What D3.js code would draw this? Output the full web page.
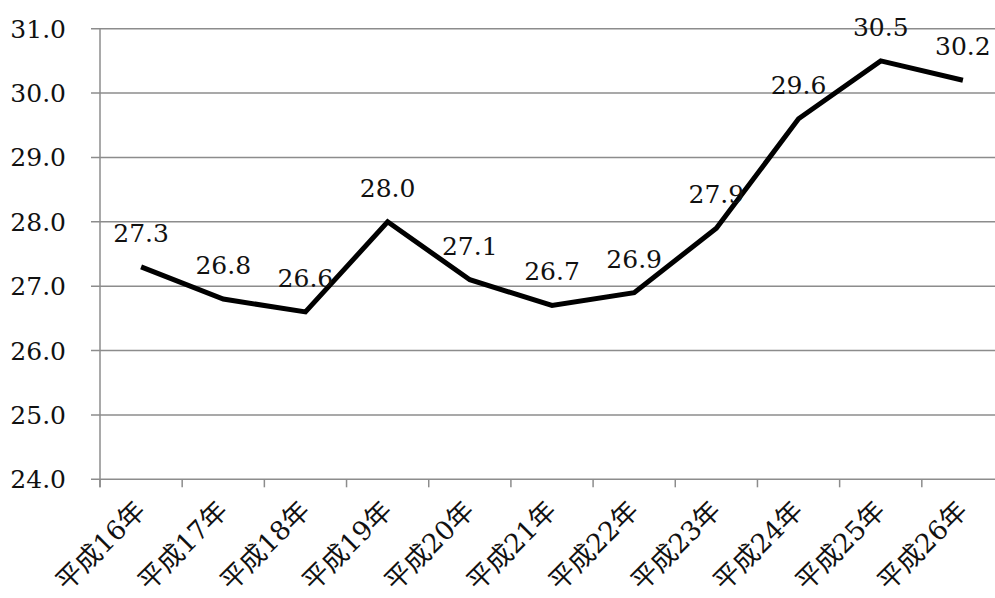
<!DOCTYPE html>
<html>
<head>
<meta charset="utf-8">
<script src="https://cdn.jsdelivr.net/npm/d3@7"></script>
<style>
  html, body { margin: 0; padding: 0; background: #fff; }
  svg { display: block; }
  text { font-family: "DejaVu Serif", "Noto Sans CJK JP", serif; fill: #111; }
</style>
</head>
<body>
<svg id="chart" width="995" height="598"></svg>
<script>
// Yearly values (Heisei 16 – 26)
const categories = ["平成16年", "平成17年", "平成18年", "平成19年", "平成20年", "平成21年",
                    "平成22年", "平成23年", "平成24年", "平成25年", "平成26年"];
const values = [27.3, 26.8, 26.6, 28.0, 27.1, 26.7, 26.9, 27.9, 29.6, 30.5, 30.2];
const yTicks = [24, 25, 26, 27, 28, 29, 30, 31];

const svg = d3.select("#chart");
const plotLeft = 100, plotRight = 1004, plotTop = 28.7, plotBottom = 479.3;

const x = d3.scaleBand().domain(categories).range([plotLeft, plotRight]).paddingInner(0).paddingOuter(0);
const y = d3.scaleLinear().domain([24, 31]).range([plotBottom, plotTop]);

const gridColor = "#8c8c8c";

// horizontal gridlines with short ticks to the left of the axis
svg.append("g").selectAll("line").data(yTicks).join("line")
  .attr("x1", plotLeft - 9).attr("x2", plotRight)
  .attr("y1", d => y(d)).attr("y2", d => y(d))
  .attr("stroke", gridColor).attr("stroke-width", 1.5);

// y axis line
svg.append("line")
  .attr("x1", plotLeft).attr("x2", plotLeft)
  .attr("y1", y(31)).attr("y2", plotBottom + 8)
  .attr("stroke", gridColor).attr("stroke-width", 1.5);

// category boundary ticks below the axis
const bounds = categories.map(c => x(c)).concat([plotRight]);
svg.append("g").selectAll("line").data(bounds).join("line")
  .attr("x1", d => d).attr("x2", d => d)
  .attr("y1", plotBottom).attr("y2", plotBottom + 8)
  .attr("stroke", gridColor).attr("stroke-width", 1.5);

// y tick labels
svg.append("g").selectAll("text").data(yTicks).join("text")
  .attr("x", 66).attr("y", d => y(d) + 9)
  .attr("text-anchor", "end")
  .attr("font-size", 25)
  .text(d => d.toFixed(1));

// rotated category labels
svg.append("g").selectAll("text").data(categories).join("text")
  .attr("transform", d => `translate(${x(d) + x.bandwidth() / 2 + 6},${plotBottom + 33}) rotate(-45)`)
  .attr("text-anchor", "end")
  .attr("font-size", 26.5)
  .text(d => d);

// the series line
const line = d3.line()
  .x((d, i) => x(categories[i]) + x.bandwidth() / 2)
  .y(d => y(d));
svg.append("path")
  .datum(values)
  .attr("d", line)
  .attr("fill", "none")
  .attr("stroke", "#000")
  .attr("stroke-width", 5)
  .attr("stroke-linejoin", "miter");

// value labels above each point
svg.append("g").selectAll("text").data(values).join("text")
  .attr("x", (d, i) => x(categories[i]) + x.bandwidth() / 2)
  .attr("y", d => y(d) - 25)
  .attr("text-anchor", "middle")
  .attr("font-size", 25)
  .text(d => d.toFixed(1));
</script>
</body>
</html>
